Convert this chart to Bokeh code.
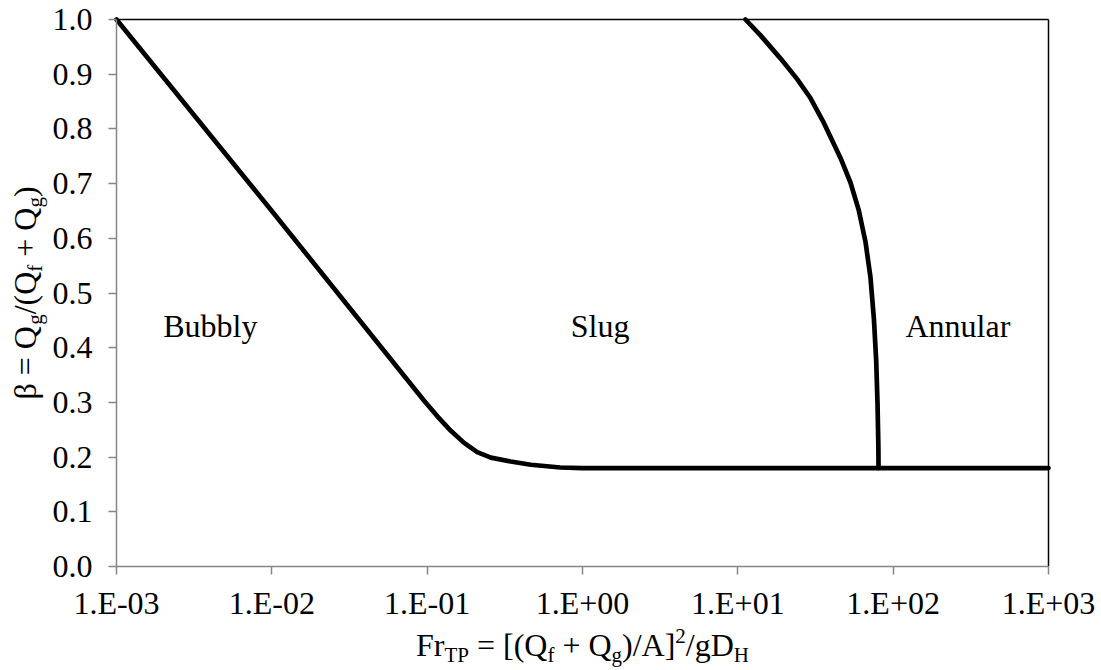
import math

from bokeh.plotting import figure
from bokeh.models import (Range1d, FixedTicker, CustomJSTickFormatter,
                          PrintfTickFormatter, Label)
from bokeh.core.properties import value
from bokeh.embed import file_html
from bokeh.resources import INLINE

# ---- data -------------------------------------------------------------
# Bubbly / slug boundary, continuing as the slug / annular floor
bubbly_fr = [0.001, 0.01, 0.095, 0.116, 0.142, 0.173, 0.21, 0.257, 0.345,
             0.465, 0.72, 1.0, 10, 100, 1000]
bubbly_beta = [1.0, 0.65, 0.304, 0.275, 0.248, 0.226, 0.209, 0.199, 0.192,
               0.186, 0.181, 0.18, 0.18, 0.18, 0.18]

# Slug / annular boundary
annular_fr = [11.2, 14.0, 18.8, 24.1, 29.4, 35.8, 45.8, 53.1, 60.1, 66.4,
              71.4, 75.2, 77.8, 79.3, 80.3, 80.5]
annular_beta = [1.0, 0.971, 0.929, 0.891, 0.856, 0.811, 0.747, 0.702, 0.651,
                0.593, 0.529, 0.452, 0.375, 0.298, 0.22, 0.18]

# Regime names and where they sit
regime_names = ["Bubbly", "Slug", "Annular"]
regime_fr = [0.002, 0.84, 120.0]
regime_beta = [0.44, 0.44, 0.44]

x_tick_values = [1e-3, 1e-2, 1e-1, 1e0, 1e1, 1e2, 1e3]
x_tick_labels = ["1.E-03", "1.E-02", "1.E-01", "1.E+00", "1.E+01", "1.E+02", "1.E+03"]
y_tick_values = [0.0, 0.1, 0.2, 0.3, 0.4, 0.5, 0.6, 0.7, 0.8, 0.9, 1.0]

# ---- layout & styling ---------------------------------------------------
FONT = "Liberation Serif"
BIG = 32      # px, main text
SMALL = 21    # px, sub/superscripts
AXIS_GREY = "#868686"
CURVE_W = 4.7

W_PX, H_PX = 1101, 670
# plotting area inside the page (pixels from the top-left corner)
A_LEFT, A_RIGHT, A_TOP, A_BOTTOM = 116, 1048, 19, 566

x_lo, x_hi = x_tick_values[0], x_tick_values[-1]
y_lo, y_hi = y_tick_values[0], y_tick_values[-1]

# The frame fills the page; ranges are widened so the data area lands
# on the plotting area and the axes are pinned to its edges.
px_per_dec = (A_RIGHT - A_LEFT) / (math.log10(x_hi) - math.log10(x_lo))
px_per_unit = (A_BOTTOM - A_TOP) / (y_hi - y_lo)
x_range = Range1d(10 ** (math.log10(x_lo) - A_LEFT / px_per_dec),
                  10 ** (math.log10(x_hi) + (W_PX - A_RIGHT) / px_per_dec))
y_range = Range1d(y_lo - (H_PX - A_BOTTOM) / px_per_unit,
                  y_hi + A_TOP / px_per_unit)

p = figure(width=W_PX, height=H_PX, x_axis_type="log",
           x_range=x_range, y_range=y_range,
           output_backend="svg", toolbar_location=None, min_border=0)
p.title.visible = False
p.grid.visible = False
p.outline_line_color = None
p.background_fill_color = "white"
p.border_fill_color = "white"

# black top and right edges of the plotting area
p.segment(x0=[x_lo, x_hi], y0=[y_hi, y_lo], x1=[x_hi, x_hi], y1=[y_hi, y_hi],
          line_color="black", line_width=1.5)

xa, ya = p.xaxis[0], p.yaxis[0]
xa.fixed_location = y_lo
xa.bounds = (x_lo, x_hi)
ya.fixed_location = x_lo
ya.bounds = (y_lo, y_hi)

for ax in (xa, ya):
    ax.axis_line_color = AXIS_GREY
    ax.axis_line_width = 1.5
    ax.major_tick_line_color = AXIS_GREY
    ax.major_tick_line_width = 1.5
    ax.major_tick_in = 0
    ax.major_tick_out = 8
    ax.minor_tick_line_color = None
    ax.major_label_text_font = FONT
    ax.major_label_text_font_size = f"{BIG}px"
    ax.major_label_text_color = "black"

xa.ticker = FixedTicker(ticks=x_tick_values)
xa.formatter = CustomJSTickFormatter(
    args=dict(vals=x_tick_values, labs=x_tick_labels),
    code="""
    let best = 0, bd = Infinity;
    for (let i = 0; i < vals.length; i++) {
        const d = Math.abs(Math.log10(vals[i]) - Math.log10(tick));
        if (d < bd) { bd = d; best = i; }
    }
    return labs[best];
    """)
xa.major_label_standoff = 10

ya.ticker = FixedTicker(ticks=y_tick_values)
ya.formatter = PrintfTickFormatter(format="%.1f")
ya.major_label_standoff = 16

# ---- boundary curves --------------------------------------------------
p.line(bubbly_fr, bubbly_beta, line_color="black", line_width=CURVE_W,
       line_join="round", line_cap="round")
p.line(annular_fr, annular_beta, line_color="black", line_width=CURVE_W,
       line_join="round", line_cap="round")

p.text(x=regime_fr, y=regime_beta, text=regime_names,
       text_font=value(FONT), text_font_size=f"{BIG}px",
       text_align="left", text_baseline="middle", text_color="black")

# ---- axis titles with sub/superscripts -------------------------------
# Advance widths (1/1000 em) of the serif face for the glyphs used
ADV = {"F": 556, "r": 333, "T": 611, "P": 556, " ": 250, "=": 564, "[": 333,
       "(": 333, "Q": 722, "f": 333, "+": 564, "g": 500, ")": 333, "/": 278,
       "A": 722, "]": 333, "2": 500, "D": 722, "H": 722, "β": 549}
SHIFT = {0: 0, -1: -6, 1: 13}
# labels anchored at "bottom" sit on the line box, which lies below the
# glyph baseline by this fraction of the font size
BOX_DROP = 0.4


def adv(s, size):
    return sum(ADV[c] for c in s) * size / 1000.0


def run_width(pieces):
    return sum(adv(s, BIG if k == 0 else SMALL) for s, k in pieces)


def place(pieces, start, base, vertical):
    """Lay out pieces along a baseline; coordinates are page pixels, y up."""
    pos = start
    for s, k in pieces:
        size = BIG if k == 0 else SMALL
        lead = len(s) - len(s.lstrip(" "))
        off = pos + adv(s[:lead], size)
        up = SHIFT[k] + BOX_DROP * size
        if vertical:
            lab = Label(x=base - up, y=off, angle=math.pi / 2)
        else:
            lab = Label(x=off, y=base + up)
        lab.update(x_units="screen", y_units="screen", text=s.strip(" "),
                   text_font=FONT, text_font_size=f"{size}px",
                   text_color="black", text_align="left",
                   text_baseline="alphabetic")
        p.add_layout(lab)
        pos += adv(s, size)


x_title = [("Fr", 0), ("TP", -1), (" = [(Q", 0), ("f", -1), (" + Q", 0),
           ("g", -1), (")/A]", 0), ("2", 1), ("/gD", 0), ("H", -1)]
y_title = [("β = Q", 0), ("g", -1), ("/(Q", 0), ("f", -1), (" + Q", 0),
           ("g", -1), (")", 0)]

x_mid = (A_LEFT + A_RIGHT) / 2
y_mid = H_PX - (A_TOP + A_BOTTOM) / 2
place(x_title, x_mid - run_width(x_title) / 2, H_PX - 657, False)
place(y_title, y_mid - run_width(y_title) / 2, 37, True)

open("out.html", "w").write(file_html(p, INLINE))
